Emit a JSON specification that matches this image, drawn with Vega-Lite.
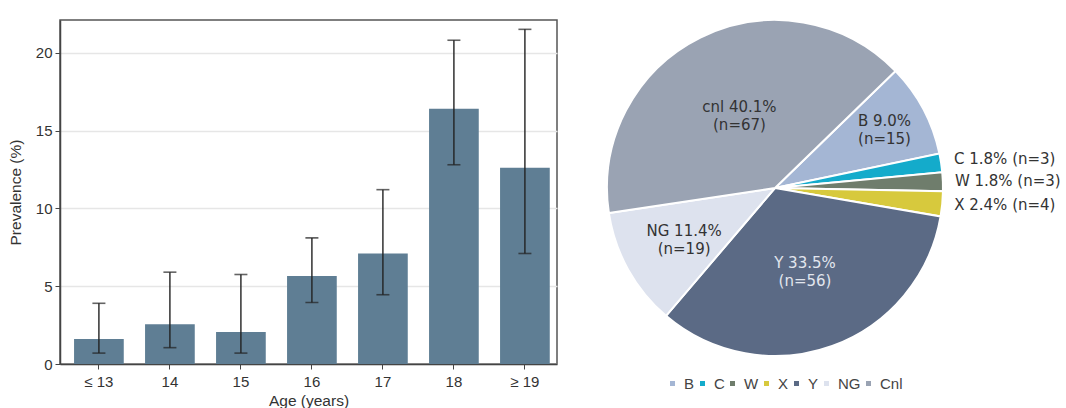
{
  "$schema": "https://vega.github.io/schema/vega-lite/v6.json",
  "padding": {"left": 7, "top": 16, "right": 0, "bottom": 0},
  "background": "white",
  "config": {"view": {"stroke": null}, "font": "Liberation Sans"},
  "spacing": 45,
  "resolve": {"scale": {"color": "independent"}, "legend": {"color": "independent"}},
  "hconcat": [
    {
      "width": 497,
      "height": 344,
      "view": {"stroke": "#555", "strokeWidth": 1.5},
      "data": {"values": [
        {"age": "≤ 13", "prev": 1.6, "lo": 0.7, "hi": 3.9},
        {"age": "14", "prev": 2.55, "lo": 1.05, "hi": 5.9},
        {"age": "15", "prev": 2.05, "lo": 0.7, "hi": 5.75},
        {"age": "16", "prev": 5.65, "lo": 3.95, "hi": 8.1},
        {"age": "17", "prev": 7.1, "lo": 4.45, "hi": 11.2},
        {"age": "18", "prev": 16.4, "lo": 12.8, "hi": 20.8},
        {"age": "≥ 19", "prev": 12.6, "lo": 7.1, "hi": 21.5}
      ]},
      "encoding": {
        "x": {
          "field": "age", "type": "nominal", "sort": null,
          "scale": {"paddingInner": 0.3, "paddingOuter": 0.15, "align": 0.66},
          "axis": {"title": "Age (years)", "labelAngle": 0, "labelFontSize": 15, "labelColor": "#333", "titleFontSize": 15.5, "titleFontWeight": "normal", "titleColor": "#333", "domainColor": "#444", "domainWidth": 1.5, "tickColor": "#444", "tickSize": 5, "labelPadding": 5, "titlePadding": 4}
        }
      },
      "layer": [
        {
          "mark": {"type": "bar", "color": "#5f7e94"},
          "encoding": {
            "y": {"field": "prev", "type": "quantitative", "scale": {"domain": [0, 22.1], "nice": false},
              "axis": {"title": "Prevalence (%)", "values": [0, 5, 10, 15, 20], "labelFontSize": 15, "labelColor": "#333", "titleFontSize": 15.5, "titleFontWeight": "normal", "titleColor": "#333", "gridColor": "#e6e6e6", "gridWidth": 1.5, "domainColor": "#444", "domainWidth": 1.5, "tickColor": "#444", "tickSize": 5, "labelPadding": 3, "titlePadding": 12}}
          }
        },
        {
          "mark": {"type": "rule", "color": "#222", "strokeWidth": 1.4},
          "encoding": {"y": {"field": "lo", "type": "quantitative"}, "y2": {"field": "hi"}}
        },
        {
          "mark": {"type": "tick", "color": "#222", "size": 13, "thickness": 1.6},
          "encoding": {"y": {"field": "lo", "type": "quantitative"}}
        },
        {
          "mark": {"type": "tick", "color": "#222", "size": 13, "thickness": 1.6},
          "encoding": {"y": {"field": "hi", "type": "quantitative"}}
        }
      ]
    },
    {
      "width": 336,
      "height": 336,
      "data": {"values": [
        {"cat": "B", "n": 15, "ord": 1, "label": "B 9.0%\n(n=15)"},
        {"cat": "C", "n": 3, "ord": 2, "label": "C 1.8% (n=3)"},
        {"cat": "W", "n": 3, "ord": 3, "label": "W 1.8% (n=3)"},
        {"cat": "X", "n": 4, "ord": 4, "label": "X 2.4% (n=4)"},
        {"cat": "Y", "n": 56, "ord": 5, "label": "Y 33.5%\n(n=56)"},
        {"cat": "NG", "n": 19, "ord": 6, "label": "NG 11.4%\n(n=19)"},
        {"cat": "Cnl", "n": 67, "ord": 7, "label": "cnl 40.1%\n(n=67)"}
      ]},
      "encoding": {
        "theta": {"field": "n", "type": "quantitative", "stack": true, "scale": {"range": [0.8, 7.0832]}},
        "order": {"field": "ord", "type": "quantitative"},
        "detail": {"field": "cat"}
      },
      "layer": [
        {
          "mark": {"type": "arc", "outerRadius": 168, "stroke": "white", "strokeWidth": 2},
          "encoding": {
            "color": {"field": "cat", "type": "nominal",
              "scale": {"domain": ["B", "C", "W", "X", "Y", "NG", "Cnl"], "range": ["#a4b6d4", "#14abcb", "#6f7d6c", "#d7c93d", "#5b6a85", "#dde2ee", "#9aa3b3"]},
              "legend": {"orient": "none", "legendX": 58, "legendY": 356, "direction": "horizontal", "title": null, "symbolType": "square", "symbolSize": 25, "symbolStrokeWidth": 0, "labelFontSize": 15, "labelColor": "#444", "labelFont": "Liberation Sans", "columnPadding": 0, "labelOffset": 4, "gridAlign": "none"}}
          }
        },
        {
          "mark": {"type": "text", "radius": 80, "dy": -9, "font": "DejaVu Sans", "lineBreak": "\n", "lineHeight": 18, "color": "#333"},
          "encoding": {
            "text": {"condition": {"test": "datum.cat === 'Cnl'", "field": "label"}, "value": ""},
            "size": {"condition": {"test": "datum.cat === 'Cnl'", "value": 15}, "value": 0}
          }
        },
        {
          "mark": {"type": "text", "radius": 88, "dy": -8, "font": "DejaVu Sans", "lineBreak": "\n", "lineHeight": 18, "color": "#e2e6ee"},
          "encoding": {
            "text": {"condition": {"test": "datum.cat === 'Y'", "field": "label"}, "value": ""},
            "size": {"condition": {"test": "datum.cat === 'Y'", "value": 15}, "value": 0}
          }
        },
        {
          "mark": {"type": "text", "radius": 104, "dy": -8, "font": "DejaVu Sans", "lineBreak": "\n", "lineHeight": 18, "color": "#333"},
          "encoding": {
            "text": {"condition": {"test": "datum.cat === 'NG'", "field": "label"}, "value": ""},
            "size": {"condition": {"test": "datum.cat === 'NG'", "value": 15}, "value": 0}
          }
        },
        {
          "mark": {"type": "text", "radius": 124, "dy": -9, "font": "DejaVu Sans", "lineBreak": "\n", "lineHeight": 18, "color": "#333"},
          "encoding": {
            "text": {"condition": {"test": "datum.cat === 'B'", "field": "label"}, "value": ""},
            "size": {"condition": {"test": "datum.cat === 'B'", "value": 15}, "value": 0}
          }
        },
        {
          "mark": {"type": "text", "radius": 176, "align": "left", "baseline": "alphabetic", "dx": 5, "dy": 2, "font": "DejaVu Sans", "color": "#333"},
          "encoding": {
            "text": {"condition": {"test": "datum.cat === 'C'", "field": "label"}, "value": ""},
            "size": {"condition": {"test": "datum.cat === 'C'", "value": 15}, "value": 0}
          }
        },
        {
          "mark": {"type": "text", "radius": 176, "align": "left", "baseline": "alphabetic", "dx": 4, "dy": 5, "font": "DejaVu Sans", "color": "#333"},
          "encoding": {
            "text": {"condition": {"test": "datum.cat === 'W' || datum.cat === 'X'", "field": "label"}, "value": ""},
            "size": {"condition": {"test": "datum.cat === 'W' || datum.cat === 'X'", "value": 15}, "value": 0}
          }
        }
      ]
    }
  ]
}
